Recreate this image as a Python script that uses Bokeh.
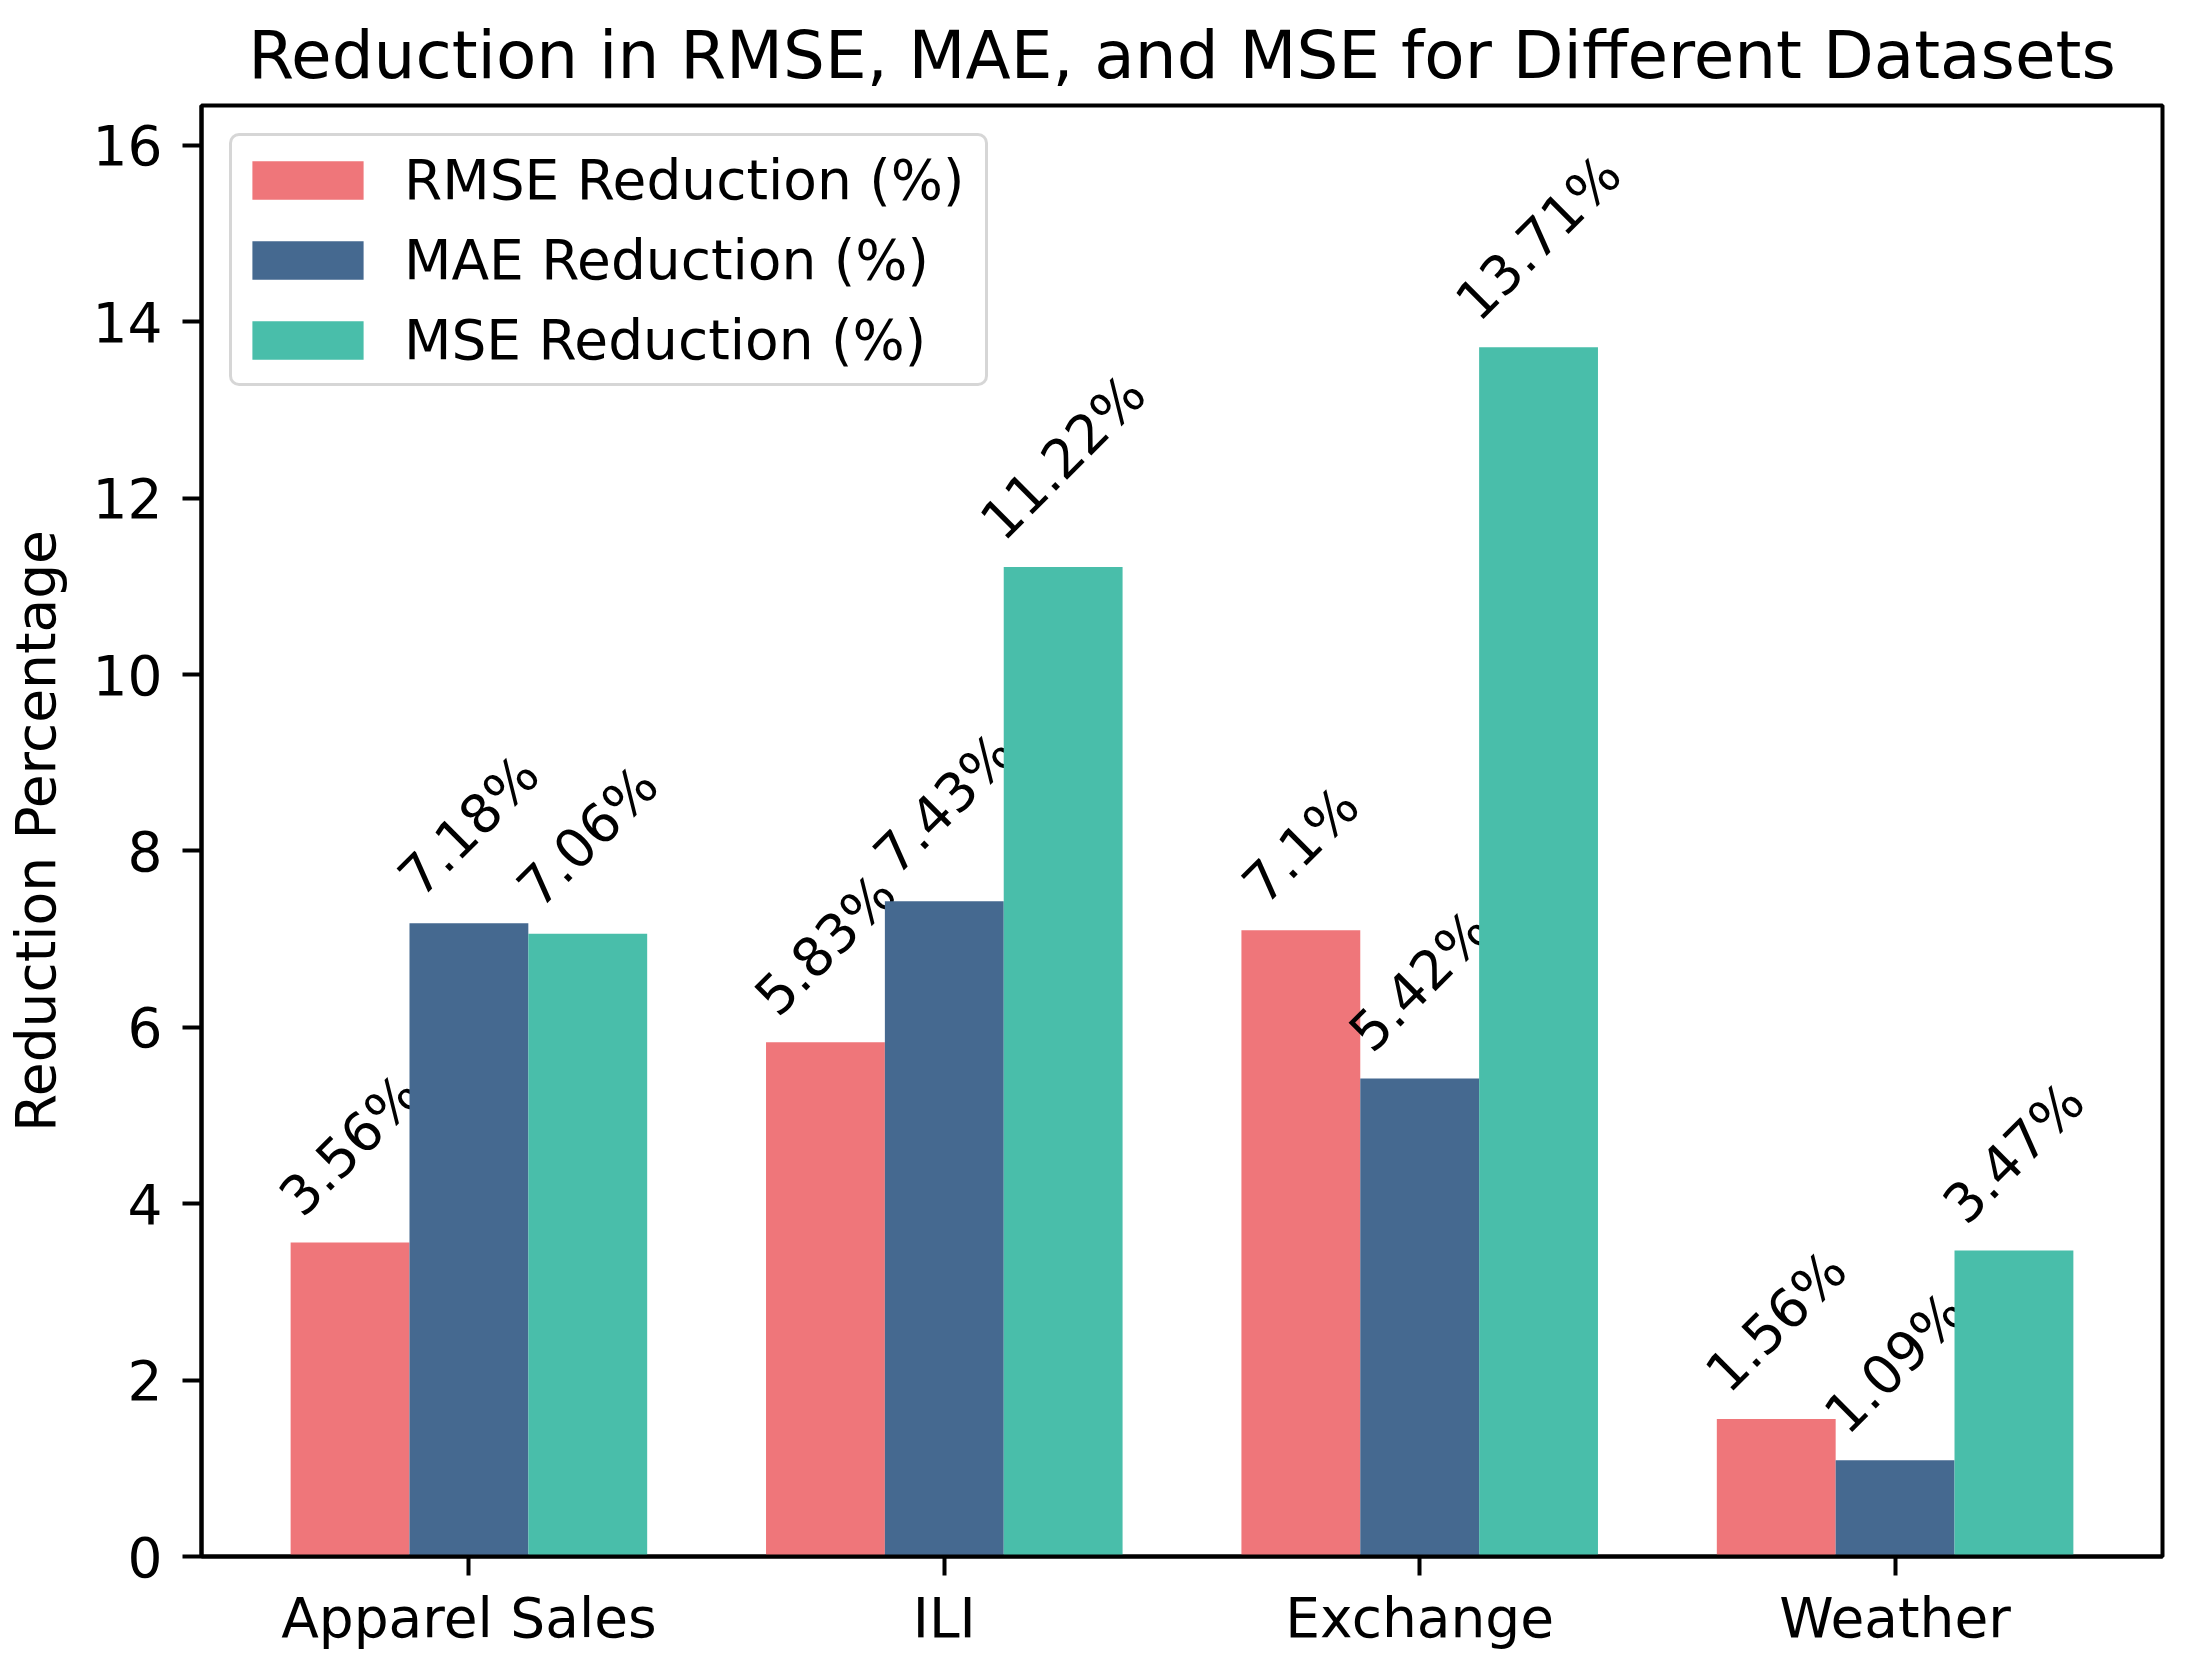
import math
from bokeh.plotting import figure
from bokeh.models import ColumnDataSource, FixedTicker, Legend, LegendItem, Range1d
from bokeh.core.properties import value
from bokeh.embed import file_html
from bokeh.resources import INLINE

# ---- data ----
datasets = ["Apparel Sales", "ILI", "Exchange", "Weather"]
rmse_red = [3.56, 5.83, 7.1, 1.56]
mae_red = [7.18, 7.43, 5.42, 1.09]
mse_red = [7.06, 11.22, 13.71, 3.47]
series_names = ["RMSE Reduction (%)", "MAE Reduction (%)", "MSE Reduction (%)"]
y_ticks = [0, 2, 4, 6, 8, 10, 12, 14, 16]

colors = ["#EF767A", "#456990", "#49BEAA"]
FONT = "DejaVu Sans"
bar_w = 0.25
ymax = max(max(rmse_red), max(mae_red), max(mse_red)) * 1.2

FRAME_W, FRAME_H = 1961, 1451
BL, BT = 196, 105
BR, BB = 28, 80

p = figure(frame_width=FRAME_W, frame_height=FRAME_H,
           output_backend="svg", toolbar_location=None,
           x_range=Range1d(-0.5625, len(datasets) - 1 + 0.5625),
           y_range=Range1d(0, ymax),
           min_border_left=BL, min_border_top=BT,
           min_border_right=BR, min_border_bottom=BB)

p.title.text = "Reduction in RMSE, MAE, and MSE for Different Datasets"
p.title.text_font = FONT
p.title.text_font_size = "66px"
p.title.text_font_style = "normal"
p.title.text_color = "black"
p.title.align = "center"
p.title.standoff = 23

p.xgrid.visible = False
p.ygrid.visible = False
p.outline_line_color = "black"
p.outline_line_width = 4
p.outline_line_alpha = 1.0

for ax in (p.xaxis[0], p.yaxis[0]):
    ax.axis_line_width = 4
    ax.major_tick_line_width = 4
    ax.major_tick_out = 19
    ax.major_tick_in = 0
    ax.minor_tick_line_color = None
    ax.major_label_text_font = FONT
    ax.major_label_text_font_size = "55px"
    ax.major_label_text_color = "black"

p.xaxis.ticker = FixedTicker(ticks=list(range(len(datasets))))
p.xaxis.major_label_overrides = {i: d for i, d in enumerate(datasets)}
p.xaxis.major_label_standoff = 10

p.yaxis.ticker = FixedTicker(ticks=y_ticks)
p.yaxis.major_label_standoff = 20
p.yaxis.axis_label = "Reduction Percentage"
p.yaxis.axis_label_text_font = FONT
p.yaxis.axis_label_text_font_size = "55px"
p.yaxis.axis_label_text_font_style = "normal"
p.yaxis.axis_label_text_color = "black"
p.yaxis.axis_label_standoff = 22

# approximate DejaVu Sans advance widths (em) for label box estimation
adv = {c: 0.636 for c in "0123456789"}
adv.update({".": 0.318, "%": 0.950})
LABEL_PX = 54
px_per_unit = FRAME_H / ymax

items = []
all_vals = [rmse_red, mae_red, mse_red]
for k, (vals, name, col) in enumerate(zip(all_vals, series_names, colors)):
    xs = [i + (k - 1) * bar_w for i in range(len(vals))]
    src = ColumnDataSource(dict(x=xs, top=vals))
    r = p.vbar(x="x", top="top", width=bar_w, bottom=0, source=src,
               fill_color=col, line_color=None)
    items.append(LegendItem(label=name, renderers=[r]))

    labels = [f"{v}%" for v in vals]
    ys = []
    for v, t in zip(vals, labels):
        w_px = sum(adv.get(c, 0.6) for c in t) * LABEL_PX
        h_px = 1.0 * LABEL_PX
        half_box = 0.3536 * (w_px + h_px)
        ys.append(v + 0.2 + half_box / px_per_unit)
    tsrc = ColumnDataSource(dict(x=xs, y=ys, t=labels))
    p.text(x="x", y="y", text="t", source=tsrc, angle=45, angle_units="deg",
           text_align="center", text_baseline="middle",
           text_font=value(FONT), text_font_size=f"{LABEL_PX}px", text_color="black")

legend = Legend(items=items, location="top_left")
legend.label_text_font = FONT
legend.label_text_font_size = "55px"
legend.label_text_color = "black"
legend.glyph_width = 139
legend.glyph_height = 48
legend.label_height = 75
legend.label_width = 575
legend.label_standoff = 27
legend.spacing = 5
legend.padding = 6
legend.margin = 28
legend.border_line_color = "#cccccc"
legend.border_line_width = 3
legend.border_line_alpha = 0.8
legend.background_fill_alpha = 0.8
if "border_radius" in legend.properties():
    legend.border_radius = 10
p.add_layout(legend)

open("out.html", "w").write(file_html(p, INLINE))
